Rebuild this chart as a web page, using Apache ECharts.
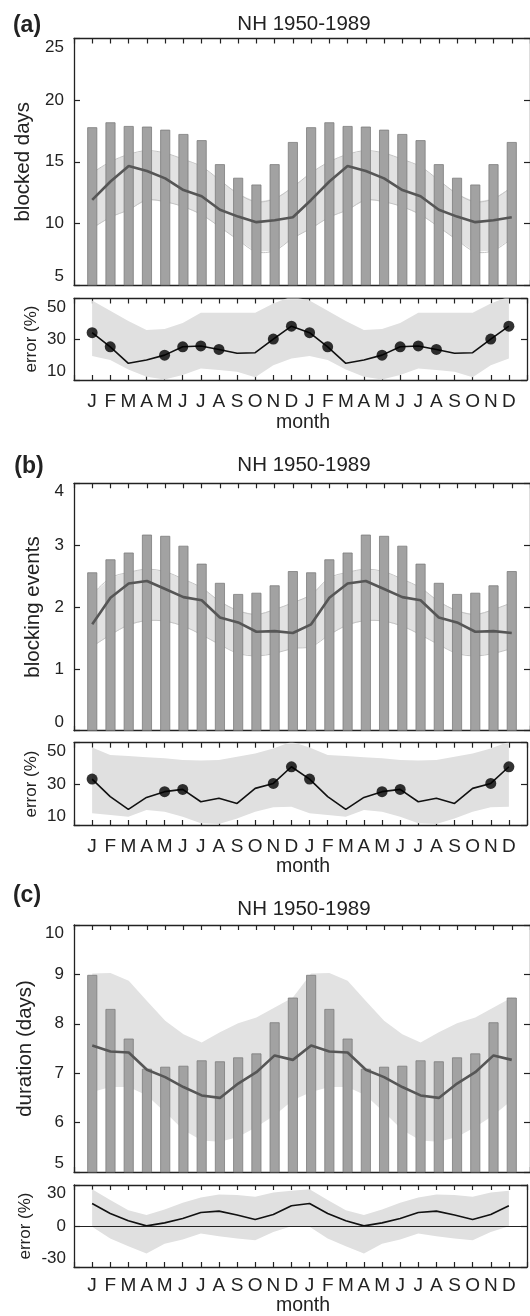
<!DOCTYPE html>
<html><head><meta charset="utf-8">
<script src="https://cdn.jsdelivr.net/npm/echarts@6/dist/echarts.min.js"></script>
<style>html,body{margin:0;padding:0;background:#fff;overflow:hidden}#c{width:530px;height:1316px}</style>
</head><body><div id="c"></div>
<script>
// ---------- data (one annual cycle, plotted twice as in the figure) ----------
const months = ['J','F','M','A','M','J','J','A','S','O','N','D'];
const tickLabels = months.concat(months);

// (a) blocked days
const daysBars  = [17.8,18.2,17.9,17.85,17.6,17.25,16.75,14.8,13.7,13.15,14.8,16.6];
const daysMean  = [11.9,13.4,14.65,14.25,13.65,12.7,12.2,11.1,10.55,10.1,10.25,10.5];
const daysUpper = [14.1,15.0,15.6,15.9,15.7,15.2,14.6,13.5,12.4,11.75,12.0,12.95];
const daysLower = [9.6,10.5,11.1,11.9,11.75,11.35,10.7,9.7,8.65,7.7,7.8,8.8];
const errA      = [33.2,26.3,18.2,19.8,22.2,26.3,26.7,25.0,23.1,23.4,30.1,36.4];
const errAUpper = [49,44,39,34.5,35,38,43,43,43,43,47.5,51];
const errALower = [21.8,19.8,15.2,11.6,10.3,12.4,15.7,14.9,14.1,11.3,17.3,20.6];
const errASig   = [1,1,0,0,1,1,1,1,0,0,1,1];

// (b) blocking events
const evBars  = [2.56,2.77,2.88,3.17,3.15,2.99,2.70,2.39,2.21,2.23,2.35,2.58];
const evMean  = [1.72,2.15,2.38,2.42,2.29,2.16,2.11,1.83,1.75,1.60,1.61,1.58];
const evUpper = [2.2,2.47,2.56,2.61,2.57,2.45,2.31,2.09,1.94,1.88,1.96,2.07];
const evLower = [1.36,1.55,1.71,1.78,1.77,1.69,1.55,1.39,1.25,1.21,1.25,1.33];
const errB      = [32.3,23.8,17.6,23.4,26.2,27.3,21.3,23.0,20.5,27.8,30.2,38.3];
const errBUpper = [47.7,44,43.5,42.9,42.4,41.6,41.3,41.6,43.2,44.8,47.2,50.5];
const errBLower = [15.7,14.9,14.0,17.3,16.5,14.0,10.8,10.5,13.2,16.5,18.6,18.9];
const errBSig   = [1,0,0,0,1,1,0,0,0,0,1,1];

// (c) duration
const durBars  = [8.99,8.30,7.70,7.09,7.13,7.15,7.26,7.24,7.32,7.40,8.03,8.53];
const durMean  = [7.56,7.44,7.42,7.07,6.92,6.72,6.55,6.50,6.79,7.02,7.36,7.27];
const durUpper = [9.02,9.03,8.87,8.46,8.06,7.79,7.62,7.83,8.01,8.13,8.33,8.53];
const durLower = [6.62,6.72,6.72,6.55,6.21,5.85,5.64,5.61,5.71,5.91,6.15,6.45];
const errC      = [16.5,9.2,3.8,0.1,2.3,5.5,9.9,10.9,8.0,4.8,8.4,14.8];
const errCUpper = [26.8,19,11.6,8.0,12.1,17,20.9,23.1,22.7,21.4,24.6,25.8];
const errCLower = [-0.6,-9.2,-14.8,-20.2,-12.9,-9.9,-5.5,-7.5,-9.2,-10.4,-4.3,-0.1];

// y tick values
const ticksA = [5,10,15,20,25];
const ticksB = [0,1,2,3,4];
const ticksC = [5,6,7,8,9,10];
const ticksErr = [10,30,50];
const ticksErrC = [-30,0,30];

// ---------- helpers ----------
const FF = '"Liberation Sans", Arial, Helvetica, sans-serif';
const INK = '#222';
const rep = a => a.concat(a);
const pts = a => rep(a).map((v, i) => [i + 1, v]);
const sigPts = (a, s) => { const v = rep(a), f = rep(s); return v.map((y, i) => [i + 1, y]).filter((p, i) => f[i]); };

const grids = [
  {left: 74, top: 38.5, width: 459, height: 246.5},
  {left: 74, top: 298.5, width: 459, height: 81.5},
  {left: 74, top: 483.3, width: 459, height: 247.4},
  {left: 74, top: 742.7, width: 459, height: 82.3},
  {left: 74, top: 925, width: 459, height: 247},
  {left: 74, top: 1185, width: 459, height: 82}
];

const xAxis = [], yAxis = [], series = [];
function addAxes(gi, showX, xMargin, yMin, yMax, yTicks, yFont, yMargin) {
  const line = {show: true, onZero: false, lineStyle: {color: INK, width: 1.3}};
  const xt = {show: true, inside: true, length: 5, lineStyle: {color: INK, width: 1.2}};
  xAxis.push({type: 'value', gridIndex: gi, min: 0, max: 25, interval: 1, position: 'bottom',
    axisLine: line, axisTick: xt, splitLine: {show: false},
    axisLabel: {show: showX, margin: xMargin, color: INK, fontSize: 19, lineHeight: 19, fontFamily: FF,
      formatter: v => tickLabels[v - 1] || ''}});
  xAxis.push({type: 'value', gridIndex: gi, min: 0, max: 25, interval: 1, position: 'top',
    axisLine: line, axisTick: xt, splitLine: {show: false}, axisLabel: {show: false}});
  const yt = {show: true, inside: true, length: 6, lineStyle: {color: INK, width: 1.2}, customValues: yTicks};
  yAxis.push({type: 'value', gridIndex: gi, min: yMin, max: yMax, position: 'left',
    axisLine: line, axisTick: yt, splitLine: {show: false},
    axisLabel: {show: true, customValues: yTicks, margin: yMargin, color: INK, fontSize: yFont, fontFamily: FF,
      verticalAlignMaxLabel: 'top', verticalAlignMinLabel: 'bottom'}});
  yAxis.push({type: 'value', gridIndex: gi, min: yMin, max: yMax, position: 'right',
    axisLine: line, axisTick: yt, splitLine: {show: false}, axisLabel: {show: false}});
}

// shaded band between two curves, drawn through the axes' own scale
function bandSeries(gi, up, lo, fill, edge, smooth) {
  return {type: 'custom', xAxisIndex: gi * 2, yAxisIndex: gi * 2, data: [[0, 0]], clip: true, silent: true, z: 1,
    renderItem: (params, api) => {
      const u = pts(up).map(p => api.coord(p));
      const l = pts(lo).map(p => api.coord(p));
      const children = [{type: 'polygon', shape: {points: u.concat(l.slice().reverse())},
        style: {fill: fill, stroke: null}}];
      if (edge) {
        children.push({type: 'polyline', shape: {points: u, smooth: smooth}, style: {stroke: edge, lineWidth: 1, fill: null}});
        children.push({type: 'polyline', shape: {points: l, smooth: smooth}, style: {stroke: edge, lineWidth: 1, fill: null}});
      }
      return {type: 'group', children};
    }};
}

function addMain(gi, bars, mean, up, lo, outline) {
  const ax = {xAxisIndex: gi * 2, yAxisIndex: gi * 2};
  series.push(bandSeries(gi, up, lo, '#e2e2e2', outline ? '#c4c4c4' : null, 0.35));
  series.push(Object.assign({type: 'bar', data: pts(bars), barWidth: 10,
    itemStyle: {color: '#a2a2a2', borderColor: '#7c7c7c', borderWidth: 0.8}, z: 2}, ax));
  series.push(Object.assign({type: 'line', data: pts(mean), symbol: 'none',
    lineStyle: {color: '#565656', width: 2.6}, z: 3}, ax));
}

function addErr(gi, err, up, lo, sig, zeroLine) {
  const ax = {xAxisIndex: gi * 2, yAxisIndex: gi * 2};
  series.push(bandSeries(gi, up, lo, '#e0e0e0', null, 0));
  const l = Object.assign({type: 'line', data: pts(err), symbol: 'none',
    lineStyle: {color: '#111', width: 1.6}, z: 3}, ax);
  if (zeroLine) l.markLine = {silent: true, symbol: 'none', label: {show: false},
    lineStyle: {color: INK, width: 1.2, type: 'solid'}, data: [{yAxis: 0}]};
  series.push(l);
  if (sig) series.push(Object.assign({type: 'scatter', data: sigPts(err, sig), symbolSize: 11,
    itemStyle: {color: '#000'}, z: 4}, ax));
}

addAxes(0, false, 12, 5, 25, ticksA, 17, 10);
addAxes(1, true, 12, 10, 50, ticksErr, 17, 8);
addAxes(2, false, 12, 0, 4, ticksB, 17, 10);
addAxes(3, true, 12, 10, 50, ticksErr, 17, 8);
addAxes(4, false, 12, 5, 10, ticksC, 17, 10);
addAxes(5, true, 9, -30, 30, ticksErrC, 17, 8);

addMain(0, daysBars, daysMean, daysUpper, daysLower, true);
addErr(1, errA, errAUpper, errALower, errASig, false);
addMain(2, evBars, evMean, evUpper, evLower, true);
addErr(3, errB, errBUpper, errBLower, errBSig, false);
addMain(4, durBars, durMean, durUpper, durLower, false);
addErr(5, errC, errCUpper, errCLower, null, true);

function txt(text, x, y, size, opts) {
  return Object.assign({type: 'text', x, y, silent: true,
    style: {text, fill: INK, font: (opts && opts.bold ? 'bold ' : '') + size + 'px ' + FF,
      align: 'center', verticalAlign: 'middle'}}, opts && opts.rot ? {rotation: Math.PI / 2} : {});
}
const graphic = [
  txt('(a)', 27, 26, 23, {bold: true}),
  txt('NH 1950-1989', 304, 24, 20.5),
  txt('blocked days', 23, 161.75, 20.5, {rot: true}),
  txt('error (%)', 31, 339, 17, {rot: true}),
  txt('month', 303, 423, 19.5),
  txt('(b)', 29, 466.5, 23, {bold: true}),
  txt('NH 1950-1989', 304, 465, 20.5),
  txt('blocking events', 33, 607, 20.5, {rot: true}),
  txt('error (%)', 31, 784, 17, {rot: true}),
  txt('month', 303, 867, 19.5),
  txt('(c)', 27, 896, 23, {bold: true}),
  txt('NH 1950-1989', 304, 909.5, 20.5),
  txt('duration (days)', 25, 1048.5, 20.5, {rot: true}),
  txt('error (%)', 25, 1226, 17, {rot: true}),
  txt('month', 303, 1306, 19.5)
];

const chart = echarts.init(document.getElementById('c'));
chart.setOption({
  animation: false,
  backgroundColor: '#fff',
  grid: grids,
  xAxis, yAxis, series, graphic
});
</script>
</body></html>
